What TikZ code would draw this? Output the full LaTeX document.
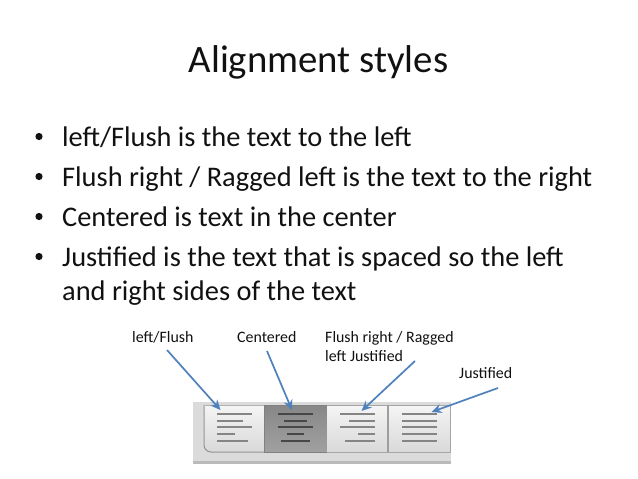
\documentclass[tikz,border=0pt]{standalone}
\usepackage{fontspec}
\setmainfont{Carlito}
\usetikzlibrary{arrows.meta}
\definecolor{arrowblue}{HTML}{4F81BD}
\definecolor{ink}{HTML}{111111}
\tikzset{
  x=1pt,y=-1pt,
  titletext/.style={anchor=base,font=\fontsize{38.8}{42}\selectfont,text=ink,inner sep=0},
  bullettext/.style={anchor=base west,font=\fontsize{28.4}{32}\selectfont,text=ink,inner sep=0},
  smalltext/.style={anchor=base west,font=\fontsize{15.9}{18}\selectfont,text=ink,inner sep=0},
  pointer/.style={draw=arrowblue,line width=1.7pt,-{Stealth[length=10pt,width=9pt]}},
  rowline/.style={draw=black!48,line width=2pt},
}
\begin{document}
\begin{tikzpicture}
\useasboundingbox (0,0) rectangle (638,479);
\fill[white] (0,0) rectangle (638,479);
\node[titletext] (title) at (318.5,72) {Alignment styles};
\foreach \n/\yy/\t in {b1/146/{left/Flush is the text to the left},
                    b2/186/{Flush right / Ragged left is the text to the right},
                    b3/226/{Centered is text in the center},
                    b4/266/{Justified is the text that is spaced so the left}}{
  \node[bullettext] (\n) at (62,\yy) {\t};
  \fill[ink] (39,\yy-9.5) circle (3.6);
}
\node[bullettext] (b5) at (62,300) {and right sides of the text};
% toolbar
\fill[black!14] (193,402) rectangle (451,463);
\fill[black!27] (193,461) rectangle (451,464);
\shade[top color=white!96!black,bottom color=black!15,rounded corners=7pt] (204,405) -- (204,452) -- (264,452) [sharp corners] -- (264,405) -- cycle;
\draw[black!42,line width=1pt,rounded corners=7pt] (264,452) -- (204,452) -- (204,405);
\draw[black!30,line width=.8pt] (204,405) -- (264,405);
\fill[top color=black!47,bottom color=black!37] (264,405) rectangle (327,452);
\draw[black!50,line width=.8pt] (264,405) rectangle (327,452);
\shade[top color=white!96!black,bottom color=black!15] (327,405) rectangle (388,452);
\shade[top color=white!96!black,bottom color=black!15] (388,405) rectangle (450,452);
\draw[black!35,line width=1pt] (327,405) -- (450,405) -- (450,452) -- (327,452);
\draw[black!38,line width=1.2pt] (388,405) -- (388,452);
% text rows
\foreach \y/\a/\b in {414/217/252,421/217/243,427/217/252,434/217/235,441/217/248}{\draw[rowline] (\a,\y) -- (\b,\y);}
\foreach \y/\a/\b in {414/278/313,421/284/307,427/278/313,434/287/304,441/281/310}{\draw[rowline,draw=black!72] (\a,\y) -- (\b,\y);}
\foreach \y/\a/\b in {414/340/375,421/349/375,427/340/375,434/358/375,441/345/375}{\draw[rowline] (\a,\y) -- (\b,\y);}
\foreach \y/\a/\b in {414/402/437,421/402/437,427/402/437,434/402/437,441/402/437}{\draw[rowline] (\a,\y) -- (\b,\y);}
% labels
\node[smalltext] (lf) at (132,342.5) {left/Flush};
\node[smalltext] (ce) at (237,342.5) {Centered};
\node[smalltext] (fr) at (325,342) {Flush right / Ragged};
\node[smalltext] (fr2) at (325,361) {left Justified};
\node[smalltext] (ju) at (459,378) {Justified};
\coordinate (tlf) at (220.5,410);
\coordinate (tce) at (292,410);
\coordinate (tfr) at (361.5,411);
\coordinate (tju) at (431.5,412);
\coordinate (slf) at (167,350);
\coordinate (sce) at (267,351);
\coordinate (sfr) at (415,361);
\coordinate (sju) at (498,388);
\draw[pointer] (slf) -- (tlf);
\draw[pointer] (sce) -- (tce);
\draw[pointer] (sfr) -- (tfr);
\draw[pointer] (sju) -- (tju);
\end{tikzpicture}
\end{document}
